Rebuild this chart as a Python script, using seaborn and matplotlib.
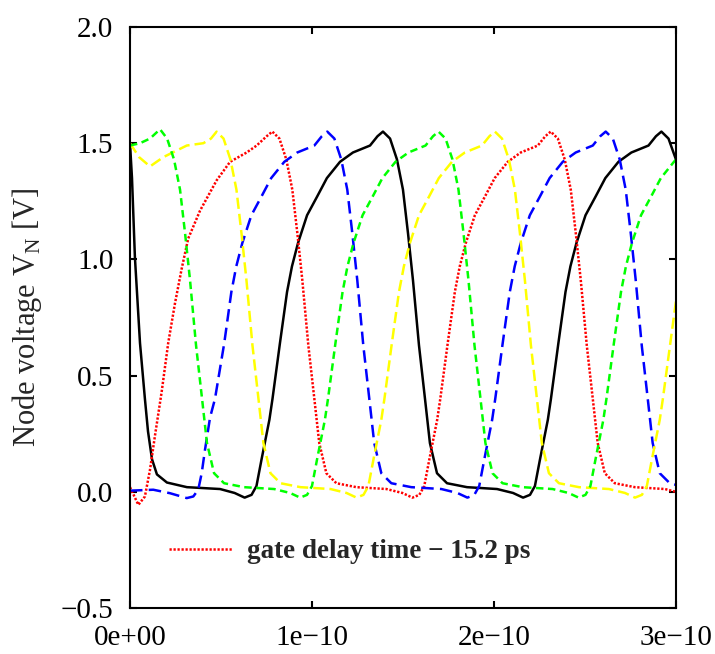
import matplotlib
matplotlib.use('Agg')
import matplotlib.pyplot as plt
import seaborn as sns
import pandas as pd
from matplotlib.ticker import FixedLocator, FixedFormatter

# node voltages of the 5-stage ring, time in ps, voltage in V
black_t = [0, 1.1, 2.7, 5.5, 8.2, 9.9, 12.1, 14.8, 20.3, 31.3,
           49.5, 57.5, 63.0, 66.8, 69.5, 72.3, 76.6, 78.3, 82.4, 86.3,
           89.0, 92.3, 97.3, 102.8, 108.2, 115.4, 122.5, 131.9, 136.0, 139.0,
           142.9, 146.7, 150.0, 152.8, 155.5, 158.8, 162.1, 164.8, 168.7, 174.2,
           185.2, 201.7, 210.5, 216.0, 219.8, 222.5, 225.3, 229.6, 231.3, 235.4,
           239.3, 242.0, 245.3, 250.3, 255.8, 261.2, 268.4, 275.5, 284.9, 289.0,
           292.0, 295.9, 300.0]
black_v = [1.50, 1.35, 1.01, 0.64, 0.40, 0.26, 0.14, 0.075, 0.04, 0.02,
           0.012, -0.005, -0.025, -0.013, 0.025, 0.14, 0.31, 0.40, 0.64, 0.86,
           0.97, 1.07, 1.19, 1.27, 1.35, 1.42, 1.46, 1.49, 1.53, 1.55,
           1.52, 1.43, 1.30, 1.11, 0.91, 0.63, 0.40, 0.21, 0.08, 0.037,
           0.02, 0.012, -0.005, -0.025, -0.013, 0.025, 0.14, 0.31, 0.40, 0.64,
           0.86, 0.97, 1.07, 1.19, 1.27, 1.35, 1.42, 1.46, 1.49, 1.53,
           1.55, 1.52, 1.43]

green_t = [0, 5.5, 11.0, 16.5, 20.4, 24.2, 27.5, 30.3, 33.0, 36.3,
           39.6, 42.3, 46.2, 51.7, 62.7, 79.2, 88.0, 93.5, 97.3, 100.0,
           102.8, 107.1, 108.8, 112.9, 116.8, 119.5, 122.8, 127.8, 133.3, 138.7,
           145.9, 153.0, 162.4, 166.5, 169.5, 173.4, 177.2, 180.5, 183.3, 186.0,
           189.3, 192.6, 195.3, 199.2, 204.7, 215.7, 232.2, 241.0, 246.5, 250.3,
           253.0, 255.8, 260.1, 261.8, 265.9, 269.8, 272.5, 275.8, 280.8, 286.3,
           291.7, 298.9, 300.0]
green_v = [1.49, 1.50, 1.52, 1.56, 1.52, 1.43, 1.30, 1.11, 0.91, 0.63,
           0.40, 0.21, 0.08, 0.037, 0.02, 0.012, -0.005, -0.025, -0.013, 0.025,
           0.14, 0.31, 0.40, 0.64, 0.86, 0.97, 1.07, 1.19, 1.27, 1.35,
           1.42, 1.46, 1.49, 1.53, 1.55, 1.52, 1.43, 1.30, 1.11, 0.91,
           0.63, 0.40, 0.21, 0.08, 0.037, 0.02, 0.012, -0.005, -0.025, -0.013,
           0.025, 0.14, 0.31, 0.40, 0.64, 0.86, 0.97, 1.07, 1.19, 1.27,
           1.35, 1.42, 1.43]

yellow_t = [0, 5.0, 11.0, 18.3, 31.2, 40.3, 44.5, 47.6, 51.4, 55.2,
            58.5, 61.3, 64.0, 67.3, 70.6, 73.3, 77.2, 82.7, 93.7, 110.2,
            119.0, 124.5, 128.3, 131.0, 133.8, 138.1, 139.8, 143.9, 147.8, 150.5,
            153.8, 158.8, 164.3, 169.7, 176.9, 184.0, 193.4, 197.5, 200.5, 204.4,
            208.2, 211.5, 214.3, 217.0, 220.3, 223.6, 226.3, 230.2, 235.7, 246.7,
            263.2, 272.0, 277.5, 281.3, 284.0, 286.8, 291.1, 292.8, 296.9, 300.0]
yellow_v = [1.50, 1.44, 1.40, 1.44, 1.49, 1.50, 1.52, 1.55, 1.52, 1.43,
            1.30, 1.11, 0.91, 0.63, 0.40, 0.21, 0.08, 0.037, 0.02, 0.012,
            -0.005, -0.025, -0.013, 0.025, 0.14, 0.31, 0.40, 0.64, 0.86, 0.97,
            1.07, 1.19, 1.27, 1.35, 1.42, 1.46, 1.49, 1.53, 1.55, 1.52,
            1.43, 1.30, 1.11, 0.91, 0.63, 0.40, 0.21, 0.08, 0.037, 0.02,
            0.012, -0.005, -0.025, -0.013, 0.025, 0.14, 0.31, 0.40, 0.64, 0.82]

red_t = [0, 4.6, 8.2, 11.0, 13.7, 17.4, 21.0, 24.7, 28.4, 32.0,
         38.5, 47.6, 55.0, 64.1, 69.6, 75.1, 78.2, 82.1, 85.9, 89.2,
         92.0, 94.7, 98.0, 101.3, 104.0, 107.9, 113.4, 124.4, 140.9, 149.7,
         155.2, 159.0, 161.7, 164.5, 168.8, 170.5, 174.6, 178.5, 181.2, 184.5,
         189.5, 195.0, 200.4, 207.6, 214.7, 224.1, 228.2, 231.2, 235.1, 238.9,
         242.2, 245.0, 247.7, 251.0, 254.3, 257.0, 260.9, 266.4, 277.4, 293.9,
         300.0]
red_v = [0.02, -0.056, -0.02, 0.095, 0.24, 0.43, 0.64, 0.81, 0.96, 1.09,
         1.21, 1.34, 1.42, 1.46, 1.49, 1.53, 1.55, 1.52, 1.43, 1.30,
         1.11, 0.91, 0.63, 0.40, 0.21, 0.08, 0.037, 0.02, 0.012, -0.005,
         -0.025, -0.013, 0.025, 0.14, 0.31, 0.40, 0.64, 0.86, 0.97, 1.07,
         1.19, 1.27, 1.35, 1.42, 1.46, 1.49, 1.53, 1.55, 1.52, 1.43,
         1.30, 1.11, 0.91, 0.63, 0.40, 0.21, 0.08, 0.037, 0.02, 0.012,
         0.0]

blue_t = [0, 12.8, 22.0, 31.2, 34.8, 37.5, 39.4, 41.2, 44.0, 46.7,
          51.8, 55.7, 58.4, 61.7, 66.7, 72.2, 77.6, 84.8, 91.9, 101.3,
          105.4, 108.4, 112.3, 116.1, 119.4, 122.2, 124.9, 128.2, 131.5, 134.2,
          138.1, 143.6, 154.6, 171.1, 179.9, 185.4, 189.2, 191.9, 194.7, 199.0,
          200.7, 204.8, 208.7, 211.4, 214.7, 219.7, 225.2, 230.6, 237.8, 244.9,
          254.3, 258.4, 261.4, 265.3, 269.1, 272.4, 275.2, 277.9, 281.2, 284.5,
          287.2, 291.1, 296.6, 300.0]
blue_v = [0.005, 0.009, -0.006, -0.027, -0.02, 0.009, 0.08, 0.18, 0.32, 0.40,
          0.64, 0.86, 0.97, 1.07, 1.19, 1.27, 1.35, 1.42, 1.46, 1.49,
          1.53, 1.55, 1.52, 1.43, 1.30, 1.11, 0.91, 0.63, 0.40, 0.21,
          0.08, 0.037, 0.02, 0.012, -0.005, -0.025, -0.013, 0.025, 0.14, 0.31,
          0.40, 0.64, 0.86, 0.97, 1.07, 1.19, 1.27, 1.35, 1.42, 1.46,
          1.49, 1.53, 1.55, 1.52, 1.43, 1.30, 1.11, 0.91, 0.63, 0.40,
          0.21, 0.08, 0.037, 0.03]

x_ticks = [0, 1e-10, 2e-10, 3e-10]
x_ticklabels = ['0e+00', '1e\u221210', '2e\u221210', '3e\u221210']
y_ticks = [-0.5, 0.0, 0.5, 1.0, 1.5, 2.0]
legend_label = 'gate delay time \u2212 15.2 ps'

sns.set_style('ticks')
plt.rcParams['font.family'] = ['Liberation Serif', 'DejaVu Serif']
plt.rcParams['mathtext.fontset'] = 'custom'
plt.rcParams['mathtext.rm'] = 'Liberation Serif'

fig = plt.figure(figsize=(7.15, 6.54), dpi=100)
ax = fig.add_axes([0.1818, 0.0703, 0.7636, 0.8884])

curves = [
    (black_t, black_v, 'black', '-', None),
    (red_t, red_v, '#ff0000', (0, (0.9, 0.7)), legend_label),
    (blue_t, blue_v, '#0000ff', (0, (5, 2.5)), None),
    (yellow_t, yellow_v, '#ffff00', (0, (4.5, 2.0)), None),
    (green_t, green_v, '#00ff00', (0, (3, 1.8)), None),
]
for t, v, col, ls, lab in curves:
    df = pd.DataFrame({'time': [ti * 1e-12 for ti in t], 'volt': v})
    sns.lineplot(data=df, x='time', y='volt', color=col, linestyle=ls,
                 linewidth=1.8, sort=False, ax=ax, label=lab, legend=False)

ax.set_xlim(0, 3e-10)
ax.set_ylim(-0.5, 2.0)
ax.xaxis.set_major_locator(FixedLocator(x_ticks))
ax.xaxis.set_major_formatter(FixedFormatter(x_ticklabels))
ax.set_yticks(y_ticks)
ax.set_xlabel('')
ax.set_ylabel('Node voltage V$_\\mathregular{N}$ [V]', fontsize=22, labelpad=12)

for s in ax.spines.values():
    s.set_visible(True)
    s.set_linewidth(1.5)
    s.set_color('black')
ax.tick_params(axis='both', direction='in', length=5, width=1.5,
               top=True, right=True, labelsize=21, colors='black')
ax.tick_params(axis='x', pad=12)
ax.tick_params(axis='y', pad=12)

ax.legend(loc='center left', bbox_to_anchor=(0.071, 0.097), frameon=False,
          prop={'family': 'Liberation Serif', 'weight': 'bold', 'size': 19.5},
          handlelength=2.33, handletextpad=0.55, borderpad=0, borderaxespad=0)

fig.savefig('out.png', dpi=100)
